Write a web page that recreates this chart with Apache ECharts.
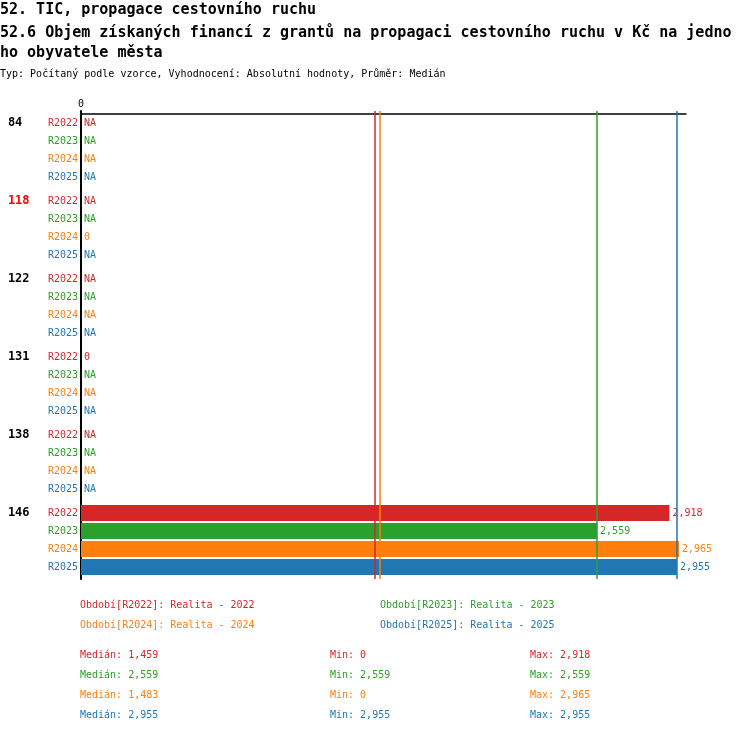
<!DOCTYPE html>
<html>
<head>
<meta charset="utf-8">
<script src="https://cdn.jsdelivr.net/npm/echarts@6/dist/echarts.min.js"></script>
<style>html,body{margin:0;padding:0;background:#fff;}#c{width:750px;height:732px;}</style>
</head>
<body>
<div id="c"></div>
<script>
var titleMain = '52. TIC, propagace cestovního ruchu';
var titleSub = '52.6 Objem získaných financí z grantů na propagaci cestovního ruchu v Kč na jedno\nho obyvatele města';
var titleInfo = 'Typ: Počítaný podle vzorce, Vyhodnocení: Absolutní hodnoty, Průměr: Medián';
var categories = ['84', '118', '122', '131', '138', '146'];
var highlighted = '118';
var seriesNames = ['R2022', 'R2023', 'R2024', 'R2025'];
var legendNames = ['Období[R2022]: Realita - 2022', 'Období[R2023]: Realita - 2023', 'Období[R2024]: Realita - 2024', 'Období[R2025]: Realita - 2025'];
var colors = ['#d62728', '#2ca02c', '#ff7f0e', '#1f77b4'];
var valuesR2022 = [null, null, null, 0, null, 2918];
var valuesR2023 = [null, null, null, null, null, 2559];
var valuesR2024 = [null, 0, null, null, null, 2965];
var valuesR2025 = [null, null, null, null, null, 2955];
var allValues = [valuesR2022, valuesR2023, valuesR2024, valuesR2025];
var xTicks = [0, 3000];

var FONT = 'DejaVu Sans Mono';
function fmt(v) { return Math.round(v).toString().replace(/\B(?=(\d{3})+(?!\d))/g, ','); }
function median(arr) {
  var a = arr.filter(function (v) { return v !== null; }).sort(function (x, y) { return x - y; });
  var n = a.length; if (!n) return null;
  return n % 2 ? a[(n - 1) / 2] : (a[n / 2 - 1] + a[n / 2]) / 2;
}
function vmin(arr) { return Math.min.apply(null, arr.filter(function (v) { return v !== null; })); }
function vmax(arr) { return Math.max.apply(null, arr.filter(function (v) { return v !== null; })); }

var rich = {
  g: { width: 40, align: 'left', fontFamily: FONT, fontSize: 12, fontWeight: 'bold', color: '#000', lineHeight: 18 },
  gh: { width: 40, align: 'left', fontFamily: FONT, fontSize: 12, fontWeight: 'bold', color: '#ff0000', lineHeight: 18 }
};
seriesNames.forEach(function (s, i) {
  rich['s' + i] = { fontFamily: FONT, fontSize: 10, color: colors[i], lineHeight: 18 };
});

var series = seriesNames.map(function (name, i) {
  var med = median(allValues[i]);
  return {
    name: legendNames[i],
    type: 'bar',
    barWidth: 16,
    barGap: '12.5%',
    itemStyle: { color: colors[i] },
    label: {
      show: true, position: 'right', distance: 3,
      fontFamily: FONT, fontSize: 10, color: colors[i],
      formatter: function (p) { return allValues[i][p.dataIndex] === null ? 'NA' : fmt(p.value); }
    },
    data: allValues[i].map(function (v) { return v === null ? 0 : v; }),
    markLine: {
      silent: true, symbol: 'none', animation: false,
      label: { show: false },
      lineStyle: { color: colors[i], width: 1.5, type: 'solid' },
      data: [{ xAxis: med }]
    },
    animation: false
  };
});

var legends = legendNames.map(function (n, i) {
  return {
    data: [{ name: n, textStyle: { color: colors[i] } }],
    left: i % 2 === 0 ? 70 : 370,
    top: i < 2 ? 595 : 615,
    icon: 'rect', itemWidth: 0, itemHeight: 0,
    textStyle: { fontFamily: FONT, fontSize: 10, color: colors[i] },
    selectedMode: false
  };
});

var graphics = [];
seriesNames.forEach(function (s, i) {
  var y = 656 + i * 20;
  var items = [
    ['Medián: ' + fmt(median(allValues[i])), 80],
    ['Min: ' + fmt(vmin(allValues[i])), 330],
    ['Max: ' + fmt(vmax(allValues[i])), 530]
  ];
  items.forEach(function (it) {
    graphics.push({
      type: 'text', left: it[1], top: y - 6,
      style: { text: it[0], fill: colors[i], font: '10px "' + FONT + '"' }
    });
  });
});

var chart = echarts.init(document.getElementById('c'), null, { renderer: 'canvas' });
chart.setOption({
  backgroundColor: '#fff',
  animation: false,
  title: [
    { text: titleMain, left: 0, top: 1, padding: 0, textStyle: { fontFamily: FONT, fontSize: 15, fontWeight: 'bold', color: '#000', lineHeight: 18 } },
    { text: titleSub, left: 0, top: 23, padding: 0, textStyle: { fontFamily: FONT, fontSize: 15, fontWeight: 'bold', color: '#000', lineHeight: 20 } },
    { text: titleInfo, left: 0, top: 68, padding: 0, textStyle: { fontFamily: FONT, fontSize: 10, fontWeight: 'normal', color: '#000', lineHeight: 12 } }
  ],
  legend: legends,
  grid: { left: 81, right: 64, top: 111, height: 468, containLabel: false },
  xAxis: {
    type: 'value', position: 'top', offset: -3,
    min: xTicks[0], max: xTicks[1], interval: xTicks[1] - xTicks[0],
    axisLine: { show: true, lineStyle: { color: '#000', width: 1.5 } },
    axisTick: { show: false },
    splitLine: { show: false },
    axisLabel: {
      margin: 5, fontFamily: FONT, fontSize: 10, color: '#000',
      formatter: function (v) { return v === 0 ? '0' : ''; }
    }
  },
  yAxis: {
    type: 'category', inverse: true, data: categories,
    axisLine: { show: true, lineStyle: { color: '#000', width: 2 } },
    axisTick: { show: false },
    axisLabel: {
      margin: 3, interval: 0,
      formatter: function (v) {
        var g = v === highlighted ? 'gh' : 'g';
        return '{' + g + '|' + v + '}{s0|' + seriesNames[0] + '}\n{s1|' + seriesNames[1] + '}\n{s2|' + seriesNames[2] + '}\n{s3|' + seriesNames[3] + '}';
      },
      rich: rich
    }
  },
  series: series,
  graphic: graphics
});
</script>
</body>
</html>
